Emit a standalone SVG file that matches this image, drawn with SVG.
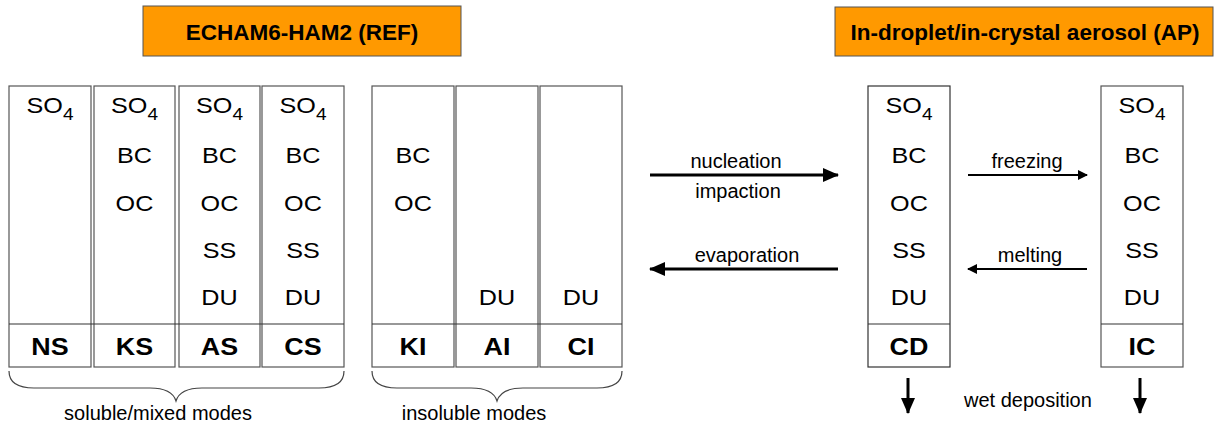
<svg xmlns="http://www.w3.org/2000/svg" width="1215" height="430" viewBox="0 0 1215 430">
<defs>
<style>
text{font-family:"Liberation Sans",Arial,sans-serif;fill:#000}
.hdr{fill:#FF9900;stroke:#555;stroke-width:1}
.ht{font-size:22.5px;font-weight:bold;text-anchor:middle}
.col{fill:#fff;stroke:#555;stroke-width:1.2}
.div{stroke:#333;stroke-width:1.2}
.sp{font-size:22.5px;text-anchor:middle}
.sub{font-size:17px}
.lb{font-size:24px;font-weight:bold;text-anchor:middle}
.sm{font-size:20px}
.mid{text-anchor:middle}
.brace{fill:none;stroke:#444;stroke-width:1.2}
.a1{stroke:#000;stroke-width:3;fill:none}
.a2{stroke:#000;stroke-width:2;fill:none}
</style>
<marker id="ah1" markerUnits="userSpaceOnUse" markerWidth="16" markerHeight="14" refX="15" refY="7" orient="auto"><path d="M0,0 L16,7 L0,14 z" fill="#000"/></marker>
<marker id="ah2" markerUnits="userSpaceOnUse" markerWidth="10" markerHeight="10" refX="9" refY="5" orient="auto"><path d="M0,0 L10,5 L0,10 z" fill="#000"/></marker>
</defs>

<g id="header-ref">
<rect class="hdr" x="143" y="6" width="318" height="50"/>
<text class="ht" x="302" y="40">ECHAM6-HAM2 (REF)</text>
</g>
<g id="header-ap">
<rect class="hdr" x="835" y="7" width="378" height="49"/>
<text class="ht" x="1025" y="40">In-droplet/in-crystal aerosol (AP)</text>
</g>

<g id="mode-NS">
<rect class="col" x="9" y="86" width="82" height="281"/>
<text class="sp" transform="translate(50,113) scale(1.12,1)">SO<tspan class="sub" dy="7">4</tspan></text>
<text class="lb" transform="translate(50,355) scale(1.12,1)">NS</text>
</g>
<g id="mode-KS">
<rect class="col" x="94" y="86" width="81" height="281"/>
<text class="sp" transform="translate(134.5,113) scale(1.12,1)">SO<tspan class="sub" dy="7">4</tspan></text>
<text class="sp" transform="translate(134.5,163) scale(1.12,1)">BC</text>
<text class="sp" transform="translate(134.5,211) scale(1.12,1)">OC</text>
<text class="lb" transform="translate(134.5,355) scale(1.12,1)">KS</text>
</g>
<g id="mode-AS">
<rect class="col" x="179" y="86" width="81" height="281"/>
<text class="sp" transform="translate(219.5,113) scale(1.12,1)">SO<tspan class="sub" dy="7">4</tspan></text>
<text class="sp" transform="translate(219.5,163) scale(1.12,1)">BC</text>
<text class="sp" transform="translate(219.5,211) scale(1.12,1)">OC</text>
<text class="sp" transform="translate(219.5,258) scale(1.12,1)">SS</text>
<text class="sp" transform="translate(219.5,305) scale(1.12,1)">DU</text>
<text class="lb" transform="translate(219.5,355) scale(1.12,1)">AS</text>
</g>
<g id="mode-CS">
<rect class="col" x="262" y="86" width="82" height="281"/>
<text class="sp" transform="translate(303,113) scale(1.12,1)">SO<tspan class="sub" dy="7">4</tspan></text>
<text class="sp" transform="translate(303,163) scale(1.12,1)">BC</text>
<text class="sp" transform="translate(303,211) scale(1.12,1)">OC</text>
<text class="sp" transform="translate(303,258) scale(1.12,1)">SS</text>
<text class="sp" transform="translate(303,305) scale(1.12,1)">DU</text>
<text class="lb" transform="translate(303,355) scale(1.12,1)">CS</text>
</g>
<line class="div" x1="9" y1="324" x2="344" y2="324"/>

<g id="mode-KI">
<rect class="col" x="372" y="86" width="82" height="281"/>
<text class="sp" transform="translate(413,163) scale(1.12,1)">BC</text>
<text class="sp" transform="translate(413,211) scale(1.12,1)">OC</text>
<text class="lb" transform="translate(413,355) scale(1.12,1)">KI</text>
</g>
<g id="mode-AI">
<rect class="col" x="456" y="86" width="82" height="281"/>
<text class="sp" transform="translate(497,305) scale(1.12,1)">DU</text>
<text class="lb" transform="translate(497,355) scale(1.12,1)">AI</text>
</g>
<g id="mode-CI">
<rect class="col" x="540" y="86" width="82" height="281"/>
<text class="sp" transform="translate(581,305) scale(1.12,1)">DU</text>
<text class="lb" transform="translate(581,355) scale(1.12,1)">CI</text>
</g>
<line class="div" x1="372" y1="324" x2="622" y2="324"/>

<g id="mode-CD">
<rect class="col" x="868" y="86" width="82" height="281" style="stroke:#333"/>
<line class="div" x1="868" y1="324" x2="950" y2="324"/>
<text class="sp" transform="translate(909,113) scale(1.12,1)">SO<tspan class="sub" dy="7">4</tspan></text>
<text class="sp" transform="translate(909,163) scale(1.12,1)">BC</text>
<text class="sp" transform="translate(909,211) scale(1.12,1)">OC</text>
<text class="sp" transform="translate(909,258) scale(1.12,1)">SS</text>
<text class="sp" transform="translate(909,305) scale(1.12,1)">DU</text>
<text class="lb" transform="translate(909,355) scale(1.12,1)">CD</text>
</g>
<g id="mode-IC">
<rect class="col" x="1101" y="86" width="82" height="281"/>
<line class="div" x1="1101" y1="324" x2="1183" y2="324"/>
<text class="sp" transform="translate(1142,113) scale(1.12,1)">SO<tspan class="sub" dy="7">4</tspan></text>
<text class="sp" transform="translate(1142,163) scale(1.12,1)">BC</text>
<text class="sp" transform="translate(1142,211) scale(1.12,1)">OC</text>
<text class="sp" transform="translate(1142,258) scale(1.12,1)">SS</text>
<text class="sp" transform="translate(1142,305) scale(1.12,1)">DU</text>
<text class="lb" transform="translate(1142,355) scale(1.12,1)">IC</text>
</g>

<g id="brace-soluble">
<path class="brace" d="M9,371 Q9,388 34,388 L150,388 Q172,388 176,401 Q180,388 202,388 L319,388 Q344,388 344,371"/>
<text class="sm mid" x="158" y="420">soluble/mixed modes</text>
</g>
<g id="brace-insoluble">
<path class="brace" d="M372,371 Q372,388 397,388 L471,388 Q493,388 497,401 Q501,388 523,388 L597,388 Q622,388 622,371"/>
<text class="sm mid" x="474" y="420">insoluble modes</text>
</g>

<g id="connectors">
<line class="a1" x1="650" y1="175" x2="838" y2="175" marker-end="url(#ah1)"/>
<line class="a1" x1="838" y1="269" x2="650" y2="269" marker-end="url(#ah1)"/>
<line class="a2" x1="968" y1="175" x2="1087" y2="175" marker-end="url(#ah2)"/>
<line class="a2" x1="1087" y1="269" x2="968" y2="269" marker-end="url(#ah2)"/>
<line class="a1" x1="908" y1="378" x2="908" y2="413" marker-end="url(#ah1)"/>
<line class="a1" x1="1140" y1="378" x2="1140" y2="413" marker-end="url(#ah1)"/>
<text class="sm mid" x="736" y="168">nucleation</text>
<text class="sm mid" x="738" y="198">impaction</text>
<text class="sm mid" x="747" y="262">evaporation</text>
<text class="sm mid" x="1027" y="168">freezing</text>
<text class="sm mid" x="1030" y="262">melting</text>
<text class="sm" x="964" y="407">wet deposition</text>
</g>
</svg>
